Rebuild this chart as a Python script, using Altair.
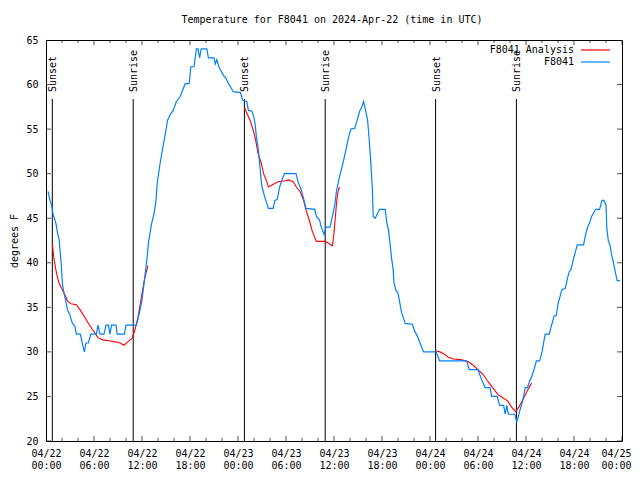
import altair as alt
import pandas as pd

# ---- data (hours since 2024-04-22 00:00 UTC, degrees F) ----
obs_hours = [0.25, 0.5, 0.7, 0.9, 1.25, 1.45, 1.65, 1.75, 1.9, 2.05, 2.25, 2.45, 2.7, 3.0, 3.3,
             3.6, 3.8, 4.3, 4.5, 4.8, 5.0, 5.3, 5.6, 6.3, 6.5, 6.75, 7.25, 7.5, 7.8, 8.0, 8.2,
             8.75, 8.9, 9.8, 10.0, 11.3, 11.5, 11.75, 12.0, 12.2, 12.4, 12.6, 12.8, 13.0, 13.2,
             13.5, 13.75, 13.9, 14.2, 14.4, 14.7, 15.0, 15.2, 15.5, 15.9, 16.3, 16.75, 17.0,
             17.4, 17.9, 18.1, 18.5, 18.8, 19.0, 19.2, 19.4, 20.1, 20.3, 21.0, 21.15, 21.35,
             21.6, 21.9, 22.2, 22.5, 22.8, 23.1, 23.4, 24.3, 24.6, 25.1, 25.3, 25.75, 26.0,
             26.15, 26.3, 26.5, 26.7, 26.85, 27.0, 27.4, 27.8, 28.4, 28.6, 28.9, 29.2, 29.5,
             29.8, 31.25, 31.5, 31.9, 32.2, 32.5, 33.6, 33.8, 34.2, 34.4, 34.75, 35.0, 35.5,
             35.8, 36.1, 36.3, 36.6, 36.9, 37.2, 37.5, 37.8, 38.1, 38.6, 38.9, 39.2, 39.4,
             39.7, 39.9, 40.2, 40.4, 40.6, 40.7, 40.8, 40.9, 41.15, 41.7, 42.4, 42.6, 42.8,
             43.0, 43.2, 43.4, 43.5, 43.75, 44.0, 44.25, 44.45, 44.65, 44.9, 45.8, 46.1, 46.4,
             46.75, 47.2, 48.75, 49.2, 52.6, 52.9, 54.0, 54.4, 54.9, 55.5, 55.7, 56.4, 56.7,
             57.2, 57.4, 57.6, 57.8, 58.6, 58.85, 59.0, 59.25, 59.5, 59.7, 59.9, 60.2, 60.4,
             60.7, 61.0, 61.3, 61.7, 62.0, 62.2, 62.4, 62.9, 63.2, 63.5, 63.8, 64.0, 64.25,
             64.5, 64.9, 65.2, 65.4, 65.6, 65.9, 66.2, 66.4, 67.2, 67.4, 67.7, 68.0, 68.2,
             68.7, 69.2, 69.5, 69.75, 70.0, 70.1, 70.3, 70.5, 70.7, 71.0, 71.25, 71.4, 71.75]
obs_temps = [48, 47, 46.5, 45.4, 44.4, 43.3, 42.6, 41.4, 39.9, 37.7, 36.6, 35.8, 34.7, 34.1, 33.2,
             32.9, 32, 32, 31.1, 30, 31, 31, 32, 32, 33, 32, 32, 33, 33, 32, 33,
             33, 32, 32, 33, 33, 33.7, 34.7, 35.8, 37.3, 38.8, 40.3, 42.2, 43.3, 44.4,
             45.5, 47, 48.9, 50.8, 51.9, 53.4, 54.9, 56, 56.6, 57.1, 58.1, 58.6, 59.2,
             60.1, 60.1, 62, 62, 64, 64, 63, 64, 64, 63, 63, 62.3, 62.8,
             62, 61.5, 61, 60.7, 60.1, 59.7, 59.2, 59.1, 58.2, 58.1, 57.1, 57, 56.3,
             55.5, 54.1, 53, 51.2, 49.7, 48.5, 47.2, 46.1, 46.1, 47, 47.1, 48.5, 49.3,
             50, 50, 49.1, 48.2, 47.2, 46.1, 46, 45.2, 44.8, 44, 43.2, 44, 44,
             45.2, 46.5, 48, 49.3, 50.4, 51.5, 52.7, 54, 55, 55.1, 56, 57, 57.3,
             58.1, 57.3, 56, 53.8, 51.3, 49.7, 48.2, 45.2, 45, 46, 46, 44.5, 43.7,
             42.2, 40.5, 39.2, 37.7, 36.9, 36.6, 35.4, 34.4, 33.9, 33.2, 33.1, 32.3, 31.8,
             31, 30, 30, 29, 29, 28, 28, 27, 26, 26, 25, 25, 24,
             24, 23, 24, 23, 23, 22.2, 22.6, 23.5, 24.2, 25, 26, 26, 26.6,
             27.2, 28, 29, 29, 30, 31, 32, 32, 33, 34, 34.1, 35.4, 36.2,
             37, 37.1, 38.3, 39, 39.2, 40.3, 41.3, 42, 42, 43, 44, 44.6, 45.2,
             46, 46, 47, 47, 46.5, 43.9, 42.4, 42, 40.9, 39.7, 38.6, 38, 38]

ana_seg = [1] * 27 + [2] * 30 + [3] * 22
ana_hours = [0.79, 1.0, 1.3, 1.6, 1.8, 2.25, 2.7, 3.1, 3.8, 4.2, 4.9, 5.5, 5.9, 6.5, 7.1,
             7.9, 8.8, 9.25, 9.75, 10.25, 10.75, 11.1, 11.5, 11.75, 12.05, 12.35, 12.75,
             24.8, 25.1, 25.5, 25.9, 26.2, 26.5, 26.9, 27.2, 27.6, 27.8, 28.2, 29.0, 29.9,
             30.3, 30.9, 31.3, 31.75, 32.2, 32.5, 32.9, 33.3, 33.8, 34.9, 35.3, 35.8, 36.0,
             36.2, 36.4, 36.55, 36.7,
             48.75, 49.25, 49.7, 50.3, 50.9, 52.0, 52.8, 53.4, 54.0, 54.7, 55.3, 55.9, 56.5,
             57.2, 57.7, 58.2, 58.7, 59.1, 59.7, 60.2, 60.45, 60.7]
ana_temps = [42.1, 40.4, 38.9, 37.8, 37.4, 36.6, 35.7, 35.4, 35.3, 34.8, 33.8, 32.9, 32.4,
             31.6, 31.35, 31.25, 31.1, 31.0, 30.75, 31.15, 31.5, 32.4, 33.9, 35.2, 36.8,
             38.3, 39.7,
             57.4, 56.8, 56.0, 54.9, 53.8, 52.3, 51.2, 50.0, 49.1, 48.5, 48.7, 49.1, 49.2,
             49.3, 49.1, 48.5, 48.0, 47.0, 45.9, 44.8, 43.5, 42.4, 42.4, 42.2, 41.9, 43.3,
             45.5, 47.4, 48.2, 48.5,
             30.1, 30.0, 29.8, 29.4, 29.2, 29.1, 28.9, 28.5, 28.0, 27.4, 26.6, 25.9, 25.2,
             24.8, 24.5, 23.8, 23.3, 23.8, 24.8, 25.7, 26.1, 26.5]

event_hours = [0.79, 10.9, 24.8, 34.9, 48.7, 58.8]
event_names = ["Sunset", "Sunrise", "Sunset", "Sunrise", "Sunset", "Sunrise"]

x_major = list(range(0, 73, 6))
x_minor = [h for h in range(0, 73, 2) if h % 6]
y_major = list(range(20, 66, 5))

series_names = ["F8041 Analysis", "F8041"]
series_colors = ["#ff0000", "#0080ff"]

title_text = "Temperature for F8041 on 2024-Apr-22 (time in UTC)"
y_title = "degrees F"

# ---- layout ----
W, H = 576, 401
FONT = "DejaVu Sans Mono"
FS = 10

obs = pd.DataFrame({"h": obs_hours, "t": obs_temps})
ana = pd.DataFrame({"h": ana_hours, "t": ana_temps, "seg": ana_seg})
events = pd.DataFrame({"h": event_hours, "name": event_names})
xmaj = pd.DataFrame({"h": x_major})
xmin = pd.DataFrame({"h": x_minor})
ymaj = pd.DataFrame({"t": y_major})
one = pd.DataFrame({"a": [0]})

xscale = alt.Scale(domain=[0, 72], nice=False, zero=False)
yscale = alt.Scale(domain=[20, 65], nice=False, zero=False)

lab = "utcFormat(datum.value*3600000 + utc(2024,3,22), '{}')"
xaxis = alt.Axis(values=x_major, ticks=False, tickSize=0, domain=False, grid=False, title=None,
                 labelExpr="[" + lab.format("%m/%d") + ", " + lab.format("%H:%M") + "]",
                 labelFont=FONT, labelFontSize=FS, labelColor="black", labelPadding=7,
                 labelBaseline="top", labelLineHeight=12, labelFlush=False, labelOverlap=False,
                 labelOffset={"condition": {"test": "datum.value >= 72", "value": -6},
                              "value": 0})
yaxis = alt.Axis(values=y_major, ticks=False, tickSize=0, domain=False, grid=False,
                 title=y_title, titleFont=FONT, titleFontSize=FS, titleFontWeight="normal",
                 titleColor="black", titleAngle=270, titleX=-32, titleY=H / 2,
                 titleAlign="center", titleBaseline="middle",
                 labelFont=FONT, labelFontSize=FS, labelColor="black", labelPadding=8,
                 labelOverlap=False, labelFlush=False)

X = alt.X("h:Q", scale=xscale, axis=xaxis)
Y = alt.Y("t:Q", scale=yscale, axis=yaxis)

ana_line = alt.Chart(ana).mark_line(color=series_colors[0], strokeWidth=1.1, clip=True).encode(
    x=X, y=Y, detail="seg:N")
obs_line = alt.Chart(obs).mark_line(color=series_colors[1], strokeWidth=1.2, clip=True).encode(
    x=X, y=Y)

ev_rules = alt.Chart(events).mark_rule(color="black", strokeWidth=1).encode(
    x=X, y=alt.value(59), y2=alt.value(H))
ev_text = alt.Chart(events).mark_text(
    angle=270, align="left", baseline="middle", font=FONT, fontSize=FS, color="black", dy=1
).encode(x=X, y=alt.value(52), text="name:N")

tick_bot = alt.Chart(xmaj).mark_tick(orient="vertical", size=10, thickness=1, color="black",
                                     clip=True).encode(x=X, y=alt.value(H))
tick_top = alt.Chart(xmaj).mark_tick(orient="vertical", size=10, thickness=1, color="black",
                                     clip=True).encode(x=X, y=alt.value(0))
mtick_bot = alt.Chart(xmin).mark_tick(orient="vertical", size=6, thickness=1, color="black",
                                      clip=True).encode(x=X, y=alt.value(H))
mtick_top = alt.Chart(xmin).mark_tick(orient="vertical", size=6, thickness=1, color="black",
                                      clip=True).encode(x=X, y=alt.value(0))
ytick_l = alt.Chart(ymaj).mark_tick(orient="horizontal", size=10, thickness=1, color="black",
                                    clip=True).encode(y=Y, x=alt.value(0))
ytick_r = alt.Chart(ymaj).mark_tick(orient="horizontal", size=10, thickness=1, color="black",
                                    clip=True).encode(y=Y, x=alt.value(W))

# chart title drawn as text above the plot area
title_mark = alt.Chart(one).mark_text(align="center", baseline="middle", font=FONT, fontSize=FS,
                                      color="black").encode(
    x=alt.value(W / 2 - 2), y=alt.value(-20), text=alt.value(title_text))

# legend (gnuplot style: text left of the sample line)
leg = []
for i, (name, col) in enumerate(zip(series_names, series_colors)):
    yy = 10 + 12 * i
    leg.append(alt.Chart(one).mark_text(align="right", baseline="middle", font=FONT, fontSize=FS,
                                        color="black").encode(
        x=alt.value(528), y=alt.value(yy), text=alt.value(name)))
    leg.append(alt.Chart(one).mark_rule(color=col, strokeWidth=1.2).encode(
        x=alt.value(535), x2=alt.value(564), y=alt.value(yy)))

chart = alt.layer(
    ev_rules, ev_text, tick_bot, tick_top, mtick_bot, mtick_top, ytick_l, ytick_r,
    ana_line, obs_line, title_mark, *leg
).properties(
    width=W, height=H,
    autosize=alt.AutoSizeParams(type="none"),
    padding={"left": 38, "top": 32, "right": 10, "bottom": 30},
    background="white",
).configure_view(stroke="black", strokeWidth=1)

chart.save("out.html", embed_options={"renderer": "svg", "actions": False})
